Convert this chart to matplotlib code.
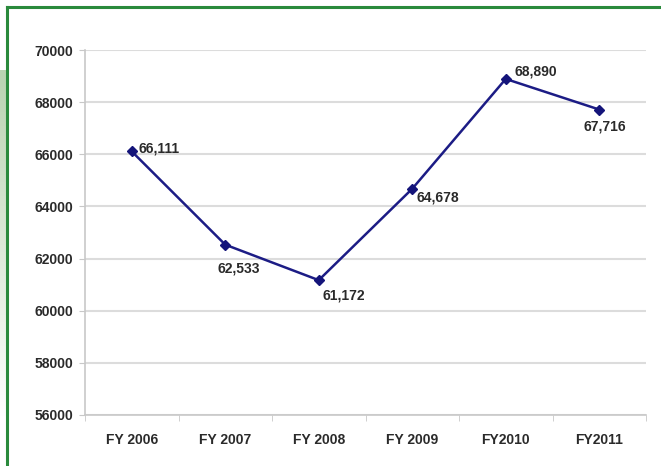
import matplotlib
matplotlib.use("Agg")
import matplotlib.pyplot as plt
import numpy as np
from matplotlib.colors import LinearSegmentedColormap

categories = ["FY 2006", "FY 2007", "FY 2008", "FY 2009", "FY2010", "FY2011"]
values = [66111, 62533, 61172, 64678, 68890, 67716]
value_labels = ["66,111", "62,533", "61,172", "64,678", "68,890", "67,716"]
yticks = [56000, 58000, 60000, 62000, 64000, 66000, 68000, 70000]

W, H = 661, 466
fig = plt.figure(figsize=(W / 100, H / 100), dpi=100)
fig.patch.set_facecolor("white")

# light green gradient strip on the left
grad = np.linspace(0, 1, 100).reshape(-1, 1)
gax = fig.add_axes([0, 1 - 420 / H, 7 / W, 350 / H])
cm = LinearSegmentedColormap.from_list("g", ["#b9d3b1", "#ffffff"])
gax.imshow(grad, aspect="auto", cmap=cm, extent=[0, 1, 0, 1])
gax.axis("off")

# green border
fig.add_artist(plt.Line2D([7 / W, 7 / W], [0, 1 - 7 / H], transform=fig.transFigure,
                          color="#2a8a3c", lw=2.2))
fig.add_artist(plt.Line2D([7 / W, 1], [1 - 7 / H, 1 - 7 / H], transform=fig.transFigure,
                          color="#2a8a3c", lw=2.2))

ax = fig.add_axes([85 / W, 1 - 415 / H, (646 - 85) / W, (415 - 50) / H])
x = np.arange(len(categories))
ax.plot(x, values, color="#1c1c85", lw=1.8, marker="D", ms=4.8, mfc="#14147a", mec="#14147a", zorder=3)

font = dict(fontfamily="Liberation Sans", fontweight="bold", fontsize=10, color="#2a2a2a")
ax.set_xlim(-0.5, len(categories) - 0.5)
ax.set_ylim(56000, 70000)
ax.set_yticks(yticks)
ax.set_yticklabels([str(v) for v in yticks], **font)
ax.set_xticks(x)
ax.set_xticklabels(categories, **font)
ax.set_xticks(np.arange(-0.5, len(categories)), minor=True)
ax.tick_params(axis="x", which="major", length=0, pad=13)
ax.tick_params(axis="x", which="minor", length=4, color="#c8c8c8")
ax.tick_params(axis="y", length=4.3, color="#c8c8c8", pad=4.3)

ax.grid(axis="y", color="#dcdcdc", lw=1.5)
ax.set_axisbelow(True)
for s in ["top", "right"]:
    ax.spines[s].set_visible(False)
for s in ["left", "bottom"]:
    ax.spines[s].set_color("#c8c8c8")
    ax.spines[s].set_linewidth(1.2)

offsets = [(4.75, 2.4, "left"), (9.6, -17.3, "center"), (2.9, -10.8, "left"),
           (3.1, -6.5, "left"), (6.5, 5.0, "left"), (4.3, -12.0, "center")]
for xi, v, lab, (dx, dy, ha) in zip(x, values, value_labels, offsets):
    ax.annotate(lab, (xi, v), xytext=(dx, dy), textcoords="offset points", ha=ha, va="center", **font)

fig.savefig("out.png", dpi=100, facecolor="white")
